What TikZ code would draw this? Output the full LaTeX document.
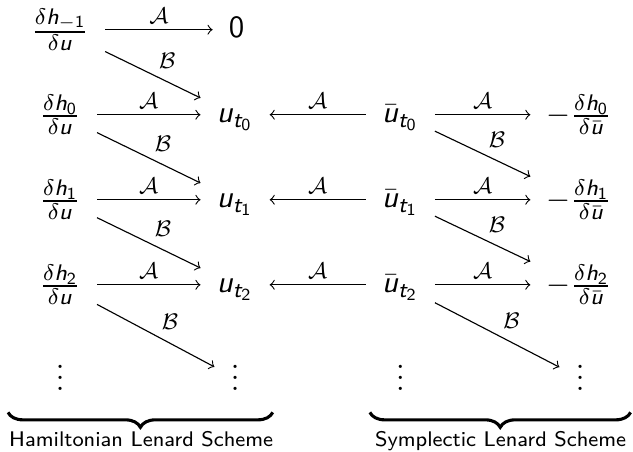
\documentclass[tikz,border=0pt,11pt]{standalone}
\usepackage{amsmath}
\usetikzlibrary{decorations.pathreplacing}
% sans letters and digits in math, slide style
\DeclareSymbolFont{sfletters}{OT1}{cmss}{m}{sl}
\DeclareSymbolFont{sfdigits}{OT1}{cmss}{m}{n}
\DeclareMathSymbol{u}{\mathalpha}{sfletters}{`u}
\DeclareMathSymbol{h}{\mathalpha}{sfletters}{`h}
\DeclareMathSymbol{t}{\mathalpha}{sfletters}{`t}
\DeclareMathSymbol{0}{\mathalpha}{sfdigits}{`0}
\DeclareMathSymbol{1}{\mathalpha}{sfdigits}{`1}
\DeclareMathSymbol{2}{\mathalpha}{sfdigits}{`2}
\tikzset{
  obj/.style={inner sep=5.6pt, text height=6.5pt, text depth=1pt},
  frc/.style={inner sep=5.6pt},
  vdts/.style={inner sep=5.6pt, text height=9.1pt, text depth=0pt},
  lbl/.style={inner sep=2pt, font=\scriptsize},
  brc/.style={decorate, decoration={brace, mirror, amplitude=5.3pt}, line width=1.1pt},
  schemelbl/.style={font=\sffamily\fontsize{7.5pt}{9pt}\selectfont, anchor=base}
}

\begin{document}
\begin{tikzpicture}
\useasboundingbox (0,0) rectangle (7.89,5.63);
% Hamiltonian side
\node[frc] (hm) at (0.75,5.26) {$\frac{\delta h_{-1}}{\delta u}$};
\node[frc] (h0) at (0.75,4.20) {$\frac{\delta h_0}{\delta u}$};
\node[frc] (h1) at (0.75,3.14) {$\frac{\delta h_1}{\delta u}$};
\node[frc] (h2) at (0.75,2.08) {$\frac{\delta h_2}{\delta u}$};
\node[vdts] (hd) at (0.75,0.92) {$\vdots$};
\node[obj] (zero) at (2.95,5.26) {$0$};
\node[obj] (u0) at (2.93,4.20) {$u_{t_0}$};
\node[obj] (u1) at (2.93,3.14) {$u_{t_1}$};
\node[obj] (u2) at (2.93,2.08) {$u_{t_2}$};
\node[vdts] (ud) at (2.93,0.92) {$\vdots$};
% symplectic side
\node[obj] (v0) at (4.99,4.20) {$\bar u_{t_0}$};
\node[obj] (v1) at (4.99,3.14) {$\bar u_{t_1}$};
\node[obj] (v2) at (4.99,2.08) {$\bar u_{t_2}$};
\node[vdts] (vd) at (4.99,0.92) {$\vdots$};
\node[frc] (r0) at (7.22,4.20) {$-\frac{\delta h_0}{\delta\bar u}$};
\node[frc] (r1) at (7.22,3.14) {$-\frac{\delta h_1}{\delta\bar u}$};
\node[frc] (r2) at (7.22,2.08) {$-\frac{\delta h_2}{\delta\bar u}$};
\node[vdts] (rd) at (7.23,0.92) {$\vdots$};

\draw[->] (hm) -- node[lbl, above] {$\mathcal{A}$} (zero);
\draw[->] (hm) -- node[lbl, above right] {$\mathcal{B}$} (u0);
\draw[->] (h0) -- node[lbl, above] {$\mathcal{A}$} (u0);
\draw[->] (h0) -- node[lbl, above right] {$\mathcal{B}$} (u1);
\draw[->] (h1) -- node[lbl, above] {$\mathcal{A}$} (u1);
\draw[->] (h1) -- node[lbl, above right] {$\mathcal{B}$} (u2);
\draw[->] (h2) -- node[lbl, above] {$\mathcal{A}$} (u2);
\draw[->] (h2) -- node[lbl, above right] {$\mathcal{B}$} (ud);

\draw[->] (v0) -- node[lbl, above] {$\mathcal{A}$} (u0);
\draw[->] (v1) -- node[lbl, above] {$\mathcal{A}$} (u1);
\draw[->] (v2) -- node[lbl, above] {$\mathcal{A}$} (u2);

\draw[->] (v0) -- node[lbl, above] {$\mathcal{A}$} (r0);
\draw[->] (v0) -- node[lbl, above right] {$\mathcal{B}$} (r1);
\draw[->] (v1) -- node[lbl, above] {$\mathcal{A}$} (r1);
\draw[->] (v1) -- node[lbl, above right] {$\mathcal{B}$} (r2);
\draw[->] (v2) -- node[lbl, above] {$\mathcal{A}$} (r2);
\draw[->] (v2) -- node[lbl, above right] {$\mathcal{B}$} (rd);

% braces and captions
\coordinate (hl) at (0.10,0.49);
\coordinate (hr) at (3.40,0.49);
\coordinate (sl) at (4.61,0.49);
\coordinate (sr) at (7.86,0.49);
\draw[brc] (hl) -- (hr);
\draw[brc] (sl) -- (sr);
\node[schemelbl] (ham) at (1.76,0.06) {Hamiltonian Lenard Scheme};
\node[schemelbl] (sym) at (6.24,0.06) {Symplectic Lenard Scheme};
\end{tikzpicture}
\end{document}
